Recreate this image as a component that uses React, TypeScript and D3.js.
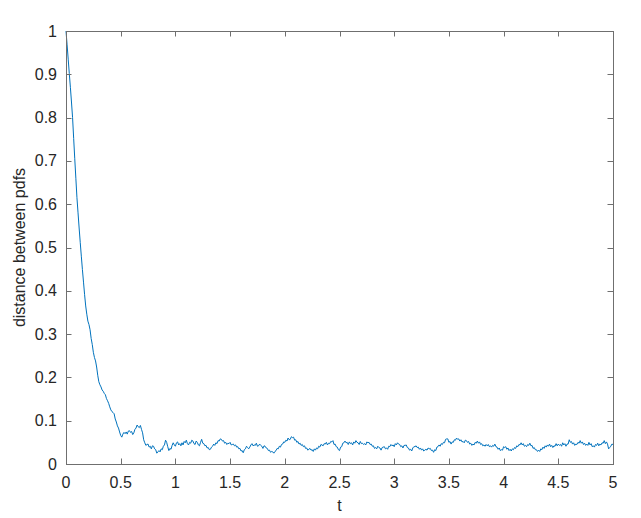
import React, { useEffect, useRef } from "react";
import * as d3 from "d3";

const T_STEP = 0.01;
const distanceValues: number[] = [
  1.0, 0.968, 0.935, 0.902, 0.87, 0.836, 0.8, 0.752, 0.705, 0.66,
  0.615, 0.58, 0.545, 0.512, 0.48, 0.449, 0.42, 0.391, 0.365, 0.346,
  0.33, 0.322, 0.31, 0.29, 0.276, 0.258, 0.246, 0.238, 0.224, 0.205,
  0.19, 0.183, 0.178, 0.171, 0.168, 0.163, 0.16, 0.151, 0.146, 0.14,
  0.132, 0.125, 0.121, 0.119, 0.116, 0.104, 0.097, 0.088, 0.083, 0.074,
  0.066, 0.062, 0.069, 0.073, 0.07, 0.074, 0.069, 0.076, 0.077, 0.073,
  0.075, 0.068, 0.072, 0.08, 0.083, 0.09, 0.086, 0.084, 0.089, 0.08,
  0.072, 0.056, 0.049, 0.043, 0.045, 0.046, 0.039, 0.041, 0.035, 0.042,
  0.041, 0.035, 0.033, 0.025, 0.028, 0.031, 0.028, 0.035, 0.033, 0.041,
  0.044, 0.055, 0.05, 0.04, 0.031, 0.036, 0.034, 0.043, 0.049, 0.044,
  0.041, 0.049, 0.051, 0.044, 0.047, 0.042, 0.049, 0.044, 0.052, 0.049,
  0.055, 0.047, 0.044, 0.05, 0.048, 0.055, 0.053, 0.047, 0.045, 0.053,
  0.05, 0.044, 0.042, 0.05, 0.057, 0.048, 0.047, 0.042, 0.043, 0.037,
  0.038, 0.033, 0.034, 0.039, 0.041, 0.046, 0.043, 0.049, 0.047, 0.054,
  0.053, 0.058, 0.057, 0.053, 0.054, 0.048, 0.05, 0.045, 0.048, 0.047,
  0.05, 0.044, 0.045, 0.046, 0.042, 0.044, 0.039, 0.04, 0.035, 0.036,
  0.03, 0.031, 0.026, 0.033, 0.035, 0.041, 0.038, 0.035, 0.039, 0.044,
  0.047, 0.042, 0.044, 0.043, 0.048, 0.041, 0.042, 0.046, 0.043, 0.041,
  0.036, 0.042, 0.041, 0.037, 0.036, 0.031, 0.032, 0.027, 0.029, 0.028,
  0.025, 0.029, 0.031, 0.036, 0.035, 0.041, 0.039, 0.045, 0.046, 0.051,
  0.05, 0.055, 0.053, 0.06, 0.056, 0.057, 0.063, 0.061, 0.062, 0.055,
  0.056, 0.05, 0.052, 0.046, 0.048, 0.043, 0.045, 0.04, 0.042, 0.036,
  0.037, 0.032, 0.034, 0.036, 0.032, 0.033, 0.029, 0.035, 0.032, 0.037,
  0.035, 0.041, 0.039, 0.045, 0.044, 0.042, 0.047, 0.046, 0.05, 0.044,
  0.048, 0.047, 0.052, 0.051, 0.054, 0.045, 0.046, 0.04, 0.039, 0.033,
  0.031, 0.039, 0.04, 0.048, 0.049, 0.053, 0.049, 0.05, 0.045, 0.051,
  0.047, 0.049, 0.044, 0.051, 0.048, 0.054, 0.05, 0.049, 0.045, 0.052,
  0.047, 0.048, 0.045, 0.047, 0.044, 0.051, 0.049, 0.05, 0.045, 0.046,
  0.041, 0.042, 0.036, 0.038, 0.035, 0.041, 0.038, 0.037, 0.032, 0.038,
  0.039, 0.04, 0.035, 0.037, 0.034, 0.041, 0.04, 0.045, 0.042, 0.044,
  0.04, 0.047, 0.044, 0.049, 0.046, 0.045, 0.04, 0.042, 0.037, 0.043,
  0.043, 0.044, 0.038, 0.037, 0.032, 0.034, 0.03, 0.037, 0.04, 0.04,
  0.042, 0.038, 0.039, 0.034, 0.037, 0.032, 0.035, 0.03, 0.032, 0.034,
  0.032, 0.037, 0.035, 0.036, 0.031, 0.032, 0.027, 0.033, 0.031, 0.039,
  0.04, 0.044, 0.041, 0.047, 0.045, 0.05, 0.049, 0.057, 0.058, 0.058,
  0.05, 0.052, 0.046, 0.051, 0.05, 0.056, 0.055, 0.06, 0.057, 0.058,
  0.053, 0.056, 0.051, 0.052, 0.049, 0.055, 0.054, 0.05, 0.052, 0.046,
  0.048, 0.043, 0.046, 0.044, 0.05, 0.048, 0.053, 0.048, 0.051, 0.045,
  0.047, 0.042, 0.044, 0.041, 0.045, 0.042, 0.045, 0.04, 0.042, 0.039,
  0.043, 0.041, 0.046, 0.04, 0.039, 0.034, 0.037, 0.031, 0.033, 0.032,
  0.04, 0.038, 0.04, 0.034, 0.037, 0.031, 0.034, 0.03, 0.035, 0.033,
  0.038, 0.036, 0.042, 0.04, 0.045, 0.044, 0.049, 0.044, 0.047, 0.041,
  0.043, 0.04, 0.045, 0.043, 0.048, 0.042, 0.043, 0.036, 0.038, 0.033,
  0.033, 0.029, 0.032, 0.029, 0.035, 0.033, 0.039, 0.036, 0.042, 0.039,
  0.044, 0.041, 0.046, 0.04, 0.043, 0.038, 0.042, 0.041, 0.047, 0.042,
  0.046, 0.043, 0.045, 0.041, 0.049, 0.044, 0.047, 0.041, 0.046, 0.046,
  0.056, 0.05, 0.052, 0.046, 0.049, 0.043, 0.046, 0.045, 0.05, 0.048,
  0.054, 0.048, 0.051, 0.045, 0.048, 0.043, 0.046, 0.043, 0.05, 0.044,
  0.047, 0.04, 0.042, 0.039, 0.045, 0.043, 0.048, 0.042, 0.046, 0.044,
  0.049, 0.048, 0.054, 0.047, 0.051, 0.046, 0.035, 0.038, 0.041, 0.046,
  0.045,
];
const xTicks = [0, 0.5, 1, 1.5, 2, 2.5, 3, 3.5, 4, 4.5, 5];
const yTicks = [0, 0.1, 0.2, 0.3, 0.4, 0.5, 0.6, 0.7, 0.8, 0.9, 1];
const xLabel = "t";
const yLabel = "distance between pdfs";

const W = 641;
const H = 518;
const M = { left: 66, right: 28, top: 31, bottom: 54 };
const AXIS_COLOR = "#6f6f6f";
const TEXT_COLOR = "#262626";
const LINE_COLOR = "#0072BD";
const FONT = "'Liberation Sans', Arial, Helvetica, sans-serif";
const TICK_LEN = 5.5;

export default function App() {
  const ref = useRef<SVGSVGElement>(null);

  useEffect(() => {
    const svg = d3.select(ref.current);
    svg.selectAll("*").remove();
    const x0 = M.left, x1 = W - M.right, y0 = H - M.bottom, y1 = M.top;
    const x = d3.scaleLinear().domain([0, 5]).range([x0, x1]);
    const y = d3.scaleLinear().domain([0, 1]).range([y0, y1]);

    const data = distanceValues.map((v, i) => ({ t: i * T_STEP, v }));

    const g = svg.append("g");

    g.append("path")
      .datum(data)
      .attr("fill", "none")
      .attr("stroke", LINE_COLOR)
      .attr("stroke-width", 1)
      .attr("stroke-linejoin", "round")
      .attr("d", d3.line<{ t: number; v: number }>().x((d) => x(d.t)).y((d) => y(d.v)));

    g.append("rect")
      .attr("x", x0).attr("y", y1)
      .attr("width", x1 - x0).attr("height", y0 - y1)
      .attr("fill", "none").attr("stroke", AXIS_COLOR).attr("stroke-width", 1)
      .attr("shape-rendering", "crispEdges");

    xTicks.forEach((t) => {
      const px = Math.round(x(t)) + 0.5;
      g.append("line").attr("x1", px).attr("x2", px).attr("y1", y0).attr("y2", y0 - TICK_LEN)
        .attr("stroke", AXIS_COLOR);
      g.append("line").attr("x1", px).attr("x2", px).attr("y1", y1).attr("y2", y1 + TICK_LEN)
        .attr("stroke", AXIS_COLOR);
      g.append("text").attr("x", x(t)).attr("y", y0 + 24)
        .attr("text-anchor", "middle").attr("fill", TEXT_COLOR)
        .attr("font-family", FONT).attr("font-size", 16).text(String(t));
    });

    yTicks.forEach((v) => {
      const py = Math.round(y(v)) + 0.5;
      g.append("line").attr("x1", x0).attr("x2", x0 + TICK_LEN).attr("y1", py).attr("y2", py)
        .attr("stroke", AXIS_COLOR);
      g.append("line").attr("x1", x1).attr("x2", x1 - TICK_LEN).attr("y1", py).attr("y2", py)
        .attr("stroke", AXIS_COLOR);
      g.append("text").attr("x", x0 - 9).attr("y", y(v) + 5.5)
        .attr("text-anchor", "end").attr("fill", TEXT_COLOR)
        .attr("font-family", FONT).attr("font-size", 16).text(String(v));
    });

    g.append("text").attr("x", (x0 + x1) / 2).attr("y", y0 + 47)
      .attr("text-anchor", "middle").attr("fill", TEXT_COLOR)
      .attr("font-family", FONT).attr("font-size", 16).text(xLabel);
    g.append("text")
      .attr("transform", `translate(${x0 - 41},${(y0 + y1) / 2}) rotate(-90)`)
      .attr("text-anchor", "middle").attr("fill", TEXT_COLOR)
      .attr("font-family", FONT).attr("font-size", 16).text(yLabel);
  }, []);

  return (
    <svg
      ref={ref}
      width={W}
      height={H}
      style={{ position: "absolute", left: 0, top: 0, background: "#fff" }}
    />
  );
}
